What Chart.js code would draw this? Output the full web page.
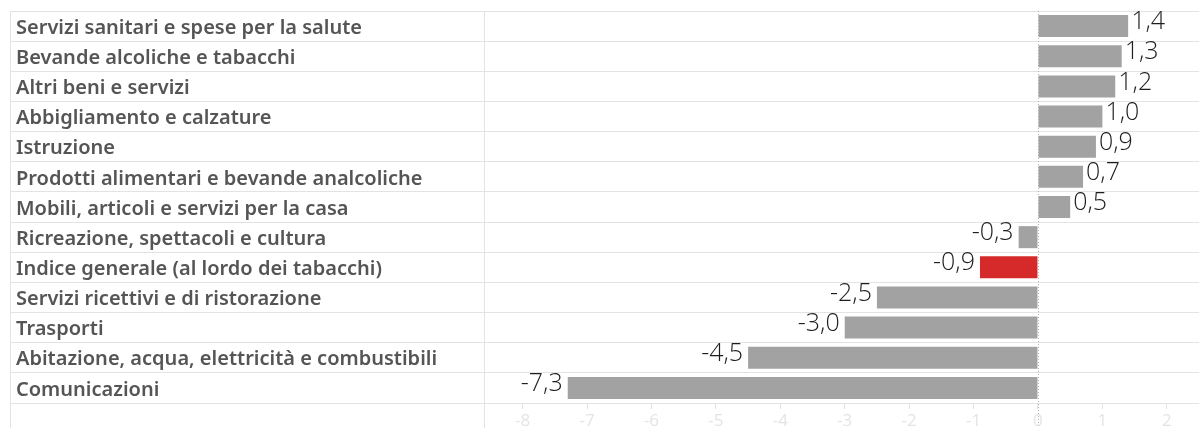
<!DOCTYPE html>
<html>
<head>
<meta charset="utf-8">
<script src="https://cdn.jsdelivr.net/npm/chart.js@4"></script>
<style>
    html, body { margin: 0; padding: 0; background: #fff; }
    #wrap { width: 1199px; height: 428px; }
</style>
</head>
<body>
<div id="wrap"><canvas id="chart" width="1199" height="428"></canvas></div>
<script>
const categories = [
    'Servizi sanitari e spese per la salute',
    'Bevande alcoliche e tabacchi',
    'Altri beni e servizi',
    'Abbigliamento e calzature',
    'Istruzione',
    'Prodotti alimentari e bevande analcoliche',
    'Mobili, articoli e servizi per la casa',
    'Ricreazione, spettacoli e cultura',
    'Indice generale (al lordo dei tabacchi)',
    'Servizi ricettivi e di ristorazione',
    'Trasporti',
    'Abitazione, acqua, elettricità e combustibili',
    'Comunicazioni'
];
const values = [1.4, 1.3, 1.2, 1.0, 0.9, 0.7, 0.5, -0.3, -0.9, -2.5, -3.0, -4.5, -7.3];
const highlight = 'Indice generale (al lordo dei tabacchi)';
const xTicks = [-8, -7, -6, -5, -4, -3, -2, -1, 0, 1, 2];

const GRID = '#e3e3e3';
const fmt = v => v.toFixed(1).replace('.', ',');

// value labels + zero line + left border
const extras = {
    id: 'extras',
    beforeDatasetsDraw(chart) {
        const { ctx, chartArea, scales } = chart;
        const x0 = scales.x.getPixelForValue(0);
        ctx.save();
        ctx.strokeStyle = '#b5b5b5';
        ctx.lineWidth = 1;
        ctx.setLineDash([1, 2]);
        ctx.beginPath();
        ctx.moveTo(Math.round(x0) + 0.5, chartArea.top);
        ctx.lineTo(Math.round(x0) + 0.5, chart.height);
        ctx.stroke();
        ctx.setLineDash([]);
        ctx.strokeStyle = GRID;
        ctx.beginPath();
        ctx.moveTo(10.5, chartArea.top);
        ctx.lineTo(10.5, chart.height);
        ctx.moveTo(chartArea.left + 0.5, chartArea.bottom);
        ctx.lineTo(chartArea.left + 0.5, chart.height);
        ctx.stroke();
        ctx.restore();
    },
    afterDatasetsDraw(chart) {
        const { ctx } = chart;
        const meta = chart.getDatasetMeta(0);
        ctx.save();
        ctx.font = '300 25px "Open Sans", sans-serif';
        ctx.fillStyle = '#1e1e1e';
        ctx.textBaseline = 'middle';
        meta.data.forEach((bar, i) => {
            const v = values[i];
            ctx.textAlign = v >= 0 ? 'left' : 'right';
            const x = v >= 0 ? bar.x + 3 : bar.x - 5;
            ctx.fillText(fmt(v), x, bar.y - 4);
        });
        ctx.restore();
    }
};

new Chart(document.getElementById('chart'), {
    type: 'bar',
    data: {
        labels: categories,
        datasets: [{
            data: values,
            backgroundColor: categories.map(c => c === highlight ? '#d62a2a' : '#a2a2a2'),
            borderWidth: 0,
            categoryPercentage: 1,
            barPercentage: 0.73
        }]
    },
    options: {
        indexAxis: 'y',
        responsive: false,
        animation: false,
        layout: { padding: { left: 16, top: 11, right: 0, bottom: 0 } },
        plugins: { legend: { display: false }, tooltip: { enabled: false } },
        scales: {
            x: {
                min: -8.6,
                max: 2.5,
                afterBuildTicks: axis => { axis.ticks = xTicks.map(v => ({ value: v })); },
                grid: { drawOnChartArea: false, drawTicks: true, tickLength: 6, tickColor: GRID },
                border: { display: true, color: GRID },
                ticks: {
                    color: '#e4e4e4',
                    font: { family: 'Open Sans', size: 17 },
                    padding: 2,
                    autoSkip: false,
                    maxRotation: 0
                },
                afterFit: axis => { axis.height = 25; axis.paddingLeft = 0; axis.paddingRight = 0; }
            },
            y: {
                grid: { color: GRID, offset: true, drawTicks: true, tickLength: 474, tickColor: GRID },
                border: { display: true, color: GRID },
                ticks: {
                    crossAlign: 'far',
                    labelOffset: 2,
                    color: '#555',
                    font: { family: 'Noto Sans', size: 20, weight: '600' }
                },
                afterFit: axis => { axis.width = 468; axis.paddingTop = 0; axis.paddingBottom = 0; }
            }
        }
    },
    plugins: [extras]
});
</script>
</body>
</html>
